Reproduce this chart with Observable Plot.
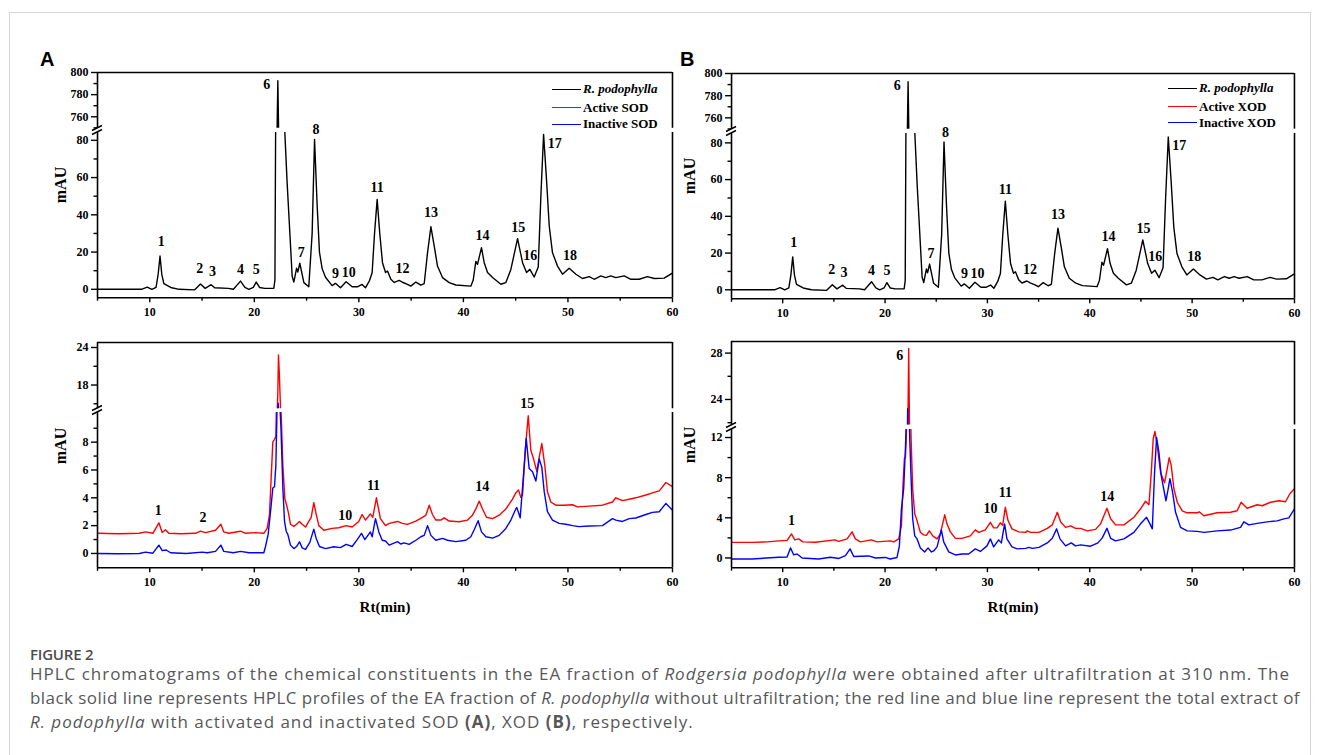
<!DOCTYPE html>
<html>
<head>
<meta charset="utf-8">
<script src="https://cdn.jsdelivr.net/npm/d3@7"></script>
<script src="https://cdn.jsdelivr.net/npm/@observablehq/plot@0.6"></script>
<style>
html, body { margin: 0; padding: 0; background: #fff; }
#root { position: relative; width: 1320px; height: 755px; overflow: hidden; background: #fff; }
.card { position: absolute; left: 9px; top: 12px; width: 1302px; height: 800px; border: 1px solid #d6d6d6; box-sizing: border-box; }
.serifb { font-family: "Liberation Serif", "Times New Roman", serif; font-weight: bold; color: #000; white-space: nowrap; }
.panelLetter { position: absolute; font-family: "Liberation Sans", Arial, sans-serif; font-weight: bold; font-size: 20px; line-height: 1; color: #000; }
.cap { position: absolute; left: 30px; font-family: "Open Sans", "Noto Sans", sans-serif; font-size: 17px; line-height: 20px; color: #575757; white-space: nowrap; }
.capTitle { position: absolute; left: 30px; font-family: "Open Sans", "Noto Sans", sans-serif; font-size: 15px; line-height: 16px; font-weight: 600; color: #4d4d4d; white-space: nowrap; letter-spacing: -0.2px; }
</style>
</head>
<body>
<div id="root"><div class="card"></div></div>
<script>
// ---------------- data ----------------
const timeTicks = [10, 20, 30, 40, 50, 60];
const timeMinor = [5, 15, 25, 35, 45, 55];

// black trace, R. podophylla (same profile in A and B) [Rt min, mAU]
const rPodophylla = [[5,0],[8,0],[9.2,0],[9.75,1.2],[10.2,0],[10.6,1],[10.8,8],[10.98,17.9],[11.15,8],[11.35,3],[12,1],[12.8,0],[14.3,-0.3],[14.85,2.8],[15.3,0.5],[15.87,2.5],[16.2,0.8],[17.5,0.5],[18.0,0],[18.68,4.4],[19.1,1],[19.48,0],[19.9,1],[20.18,3.9],[20.5,1],[21.0,0.5],[21.87,0.6],[21.97,5],[22.05,100],[22.18,750],[22.25,792.5],[22.32,750],[22.8,100],[22.92,84],[23.14,57],[23.4,30],[23.62,7],[23.78,3.9],[24.04,11.3],[24.16,9.3],[24.35,14],[24.74,3.6],[25.21,1.4],[25.53,30],[25.76,80.5],[26.01,45],[26.23,20],[26.49,11],[26.81,6.5],[27.44,2],[27.76,3.2],[28.24,0.8],[28.78,4.1],[29.36,1.4],[29.9,1.4],[30.31,2.6],[30.63,0.8],[31.02,4.7],[31.27,8.9],[31.5,30],[31.75,48.3],[32.0,30],[32.26,14.3],[32.55,9],[32.74,9.8],[33.06,5.4],[33.38,3.7],[33.86,4.8],[34.17,3.8],[34.65,2.7],[34.97,1.7],[35.45,3.9],[35.93,2.2],[36.25,3],[36.57,19.7],[36.89,33.6],[37.21,23.2],[37.52,12.5],[38.0,6.3],[38.64,3.6],[39.28,2.3],[40.71,1.7],[40.94,5],[41.19,15],[41.35,13.4],[41.73,22.4],[41.99,14.3],[42.31,9],[42.79,6.3],[43.58,2.7],[44.06,3.6],[44.54,10.7],[45.18,27.2],[45.66,14.3],[46.04,9],[46.36,10.7],[46.77,6.6],[47.16,12],[47.41,50],[47.67,83.2],[47.95,59],[48.21,34],[48.52,19.7],[49.0,12.5],[49.48,8.1],[50.12,11.3],[50.76,8.1],[51.39,5.8],[52.03,6.8],[52.51,5.4],[53.15,7.2],[53.62,6.3],[54.1,7.2],[54.58,6.3],[55.38,7.2],[56.02,5.4],[56.81,5.4],[57.61,6.8],[58.25,5.8],[59.2,6],[60,8.7]];

const activeSOD = [[5,1.45],[7,1.42],[9,1.45],[9.59,1.55],[10.3,1.45],[10.87,2.2],[11.19,1.5],[11.5,1.7],[11.82,1.45],[13,1.42],[14.37,1.45],[14.85,1.6],[15.33,1.5],[16.29,1.67],[16.8,2.1],[17.08,1.55],[17.56,1.45],[18.68,1.6],[19.16,1.45],[20.11,1.5],[20.91,1.45],[21.23,1.8],[21.45,2.8],[21.64,5.9],[21.77,8.0],[21.93,8.2],[22.06,8.4],[22.15,12],[22.25,17],[22.31,22.8],[22.41,19],[22.5,14.5],[22.57,10],[22.73,6.35],[22.92,3.95],[23.08,3.5],[23.24,3.0],[23.46,2.1],[23.78,1.95],[24.04,2.1],[24.32,2.3],[24.58,2.1],[24.9,1.9],[25.21,2.3],[25.44,2.6],[25.69,3.65],[25.91,2.85],[26.17,2.0],[26.65,1.67],[27.44,1.8],[28.08,1.85],[28.78,2.0],[29.36,1.9],[29.99,2.3],[30.31,2.8],[30.63,2.4],[31.1,2.84],[31.33,2.6],[31.68,4.0],[32.06,2.5],[32.55,2.0],[32.9,2.16],[33.7,2.3],[34.17,2.16],[34.65,2.09],[35.45,2.33],[36.09,2.6],[36.41,2.75],[36.73,3.47],[37.04,2.8],[37.36,2.4],[37.84,2.4],[38.16,2.56],[38.64,2.33],[39.59,2.28],[40.39,2.4],[40.87,2.75],[41.19,3.2],[41.51,3.76],[41.83,3.2],[42.21,2.6],[42.79,2.5],[43.42,2.75],[44.06,3.2],[44.7,3.9],[45.01,4.35],[45.27,4.57],[45.49,4.03],[45.66,4.19],[45.91,7.4],[46.2,9.9],[46.45,7.4],[46.71,6.8],[47.02,5.9],[47.25,6.9],[47.5,7.9],[47.79,6.3],[48.04,4.43],[48.36,3.7],[48.84,3.47],[49.64,3.47],[50.44,3.5],[50.91,3.35],[52.03,3.4],[53.3,3.47],[54.26,3.7],[54.58,4.0],[55.22,3.8],[55.86,3.9],[56.49,4.0],[57.45,4.2],[58.09,4.35],[58.73,4.5],[59.37,5.1],[60,4.8]];

const inactiveSOD = [[5,0],[7,-0.02],[9,0],[9.59,0.1],[10.3,0.02],[10.87,0.6],[11.19,0.2],[11.57,0.25],[11.98,0.05],[13.5,0],[15.01,0.1],[15.5,0.05],[16.29,0.15],[16.8,0.6],[17.08,0.15],[18.0,0.05],[18.68,0.15],[19.5,0.05],[20.91,0.05],[21.07,0.5],[21.32,1.35],[21.55,3.0],[21.77,4.7],[21.93,4.8],[22.06,6.35],[22.15,9.5],[22.22,13],[22.28,15.1],[22.36,13],[22.45,10.5],[22.54,9.2],[22.73,4.7],[22.89,2.3],[23.05,1.6],[23.21,1.35],[23.46,0.6],[23.78,0.35],[24.04,0.5],[24.32,0.84],[24.58,0.4],[24.9,0.3],[25.31,0.8],[25.69,1.75],[25.91,1.1],[26.23,0.5],[26.81,0.35],[27.6,0.48],[28.24,0.42],[28.78,0.65],[29.36,0.5],[29.84,1.0],[30.25,1.45],[30.57,1.0],[31.1,1.55],[31.27,1.2],[31.59,2.5],[31.91,1.55],[32.23,0.95],[32.55,0.9],[32.9,0.6],[33.7,0.85],[34.01,0.68],[34.33,0.76],[34.81,0.65],[35.45,0.95],[35.93,1.2],[36.25,1.3],[36.57,2.0],[36.89,1.3],[37.36,0.95],[38.0,1.08],[38.48,0.95],[39.28,0.85],[40.23,0.95],[40.71,1.2],[41.03,1.7],[41.41,2.35],[41.73,1.55],[42.15,1.2],[42.79,1.1],[43.42,1.3],[44.06,1.8],[44.54,2.4],[45.01,3.2],[45.11,3.3],[45.43,2.56],[45.82,6.35],[46.01,8.27],[46.29,6.1],[46.61,5.87],[46.93,5.2],[47.25,6.8],[47.5,6.2],[47.73,4.44],[48.04,3.0],[48.52,2.4],[49.16,2.16],[49.8,2.1],[50.44,2.0],[51.07,1.93],[52.03,1.97],[53.3,2.0],[54.26,2.5],[54.58,2.4],[55.22,2.3],[55.86,2.5],[56.49,2.55],[57.45,2.8],[58.09,2.95],[58.73,3.0],[59.37,3.6],[60,3.1]];

const activeXOD = [[5,1.55],[7,1.55],[8.48,1.6],[9.62,1.7],[10.43,1.75],[10.86,2.4],[11.18,1.8],[11.57,1.9],[11.96,1.6],[13.2,1.56],[15.09,1.8],[15.48,1.65],[16.29,1.9],[16.78,2.6],[17.1,1.9],[17.59,1.6],[18.67,1.8],[19.22,1.6],[20.52,1.7],[20.85,1.6],[21.33,1.9],[21.6,3.2],[21.76,7.5],[21.89,9.9],[21.99,10.0],[22.08,12.1],[22.21,20],[22.31,28.4],[22.41,20],[22.54,12.0],[22.7,6.9],[22.9,4.4],[23.13,3.7],[23.45,2.56],[23.78,2.3],[24.04,2.25],[24.33,2.7],[24.66,2.2],[25.08,1.9],[25.4,2.4],[25.83,4.3],[26.05,3.4],[26.38,2.6],[26.87,1.95],[27.52,1.95],[28.33,2.2],[28.82,2.8],[29.15,2.55],[29.8,2.8],[30.29,3.55],[30.61,3.0],[30.94,3.0],[31.26,3.5],[31.49,3.25],[31.75,5.05],[32.01,3.75],[32.4,2.9],[33.05,2.6],[33.73,2.55],[33.9,2.7],[34.22,2.55],[35.04,2.55],[35.85,2.95],[36.34,3.3],[36.83,4.55],[37.15,3.6],[37.64,3.05],[38.13,3.2],[38.61,2.95],[39.1,2.95],[39.75,2.7],[40.57,2.85],[41.06,3.4],[41.38,4.2],[41.68,4.95],[42.04,3.9],[42.52,3.3],[43.34,3.3],[44.31,4.05],[44.96,4.9],[45.45,5.65],[45.78,5.3],[46.01,8.5],[46.2,11.9],[46.37,12.6],[46.59,11.2],[46.92,8.5],[47.31,7.5],[47.57,8.9],[47.76,10.0],[47.96,9.2],[48.22,6.9],[48.55,5.55],[49.03,4.7],[49.52,4.5],[50.5,4.5],[50.69,4.6],[51.15,4.2],[52.45,4.5],[53.75,4.55],[54.4,4.7],[54.79,5.55],[55.38,4.95],[56.36,5.3],[56.84,5.2],[57.66,5.55],[58.47,5.7],[59.12,5.6],[59.55,6.4],[60,6.9]];

const inactiveXOD = [[5,-0.1],[7,-0.1],[9.62,0.07],[10.43,0.1],[10.76,1.0],[11.08,0.3],[11.41,0.4],[11.9,0.0],[13.5,-0.1],[14.66,0.07],[15.5,-0.05],[16.13,0.23],[16.58,0.9],[16.94,0.15],[18.41,0.2],[19.06,0.0],[20.03,0.05],[20.5,-0.1],[21.17,0.05],[21.4,1.2],[21.6,4.9],[21.82,6.9],[22.0,11.2],[22.05,12.9],[22.13,17],[22.21,23.2],[22.3,17],[22.41,11.9],[22.57,7.2],[22.7,3.9],[22.9,2.2],[23.13,1.9],[23.45,1.0],[23.87,0.6],[24.2,1.0],[24.53,0.6],[24.75,0.7],[25.08,1.1],[25.5,2.8],[25.73,1.6],[26.22,0.6],[26.87,0.3],[27.52,0.4],[28.17,0.4],[28.82,0.9],[29.31,0.65],[29.96,1.2],[30.29,1.9],[30.61,1.1],[31.1,1.8],[31.36,1.5],[31.68,3.4],[31.91,1.9],[32.4,1.1],[32.92,0.9],[33.73,0.95],[34.06,1.06],[34.39,0.95],[35.04,1.06],[35.85,1.5],[36.34,1.96],[36.76,2.9],[37.09,1.9],[37.64,1.2],[38.19,1.5],[38.61,1.2],[39.1,1.3],[40.08,1.17],[40.8,1.5],[41.22,2.0],[41.68,2.95],[42.04,1.96],[42.52,1.7],[43.34,1.9],[44.31,2.55],[44.96,3.4],[45.55,4.05],[45.88,3.4],[46.11,2.9],[46.33,8.5],[46.53,12.0],[46.76,10.5],[46.98,8.2],[47.44,5.7],[47.63,6.7],[47.83,7.9],[48.09,6.55],[48.38,4.55],[48.87,3.05],[49.52,2.7],[50.5,2.65],[51.15,2.55],[52.45,2.7],[53.75,2.78],[54.73,3.05],[55.05,3.6],[55.54,3.3],[56.36,3.45],[57.33,3.6],[58.31,3.7],[58.96,3.9],[59.45,4.0],[60,4.9]];

// peak labels [Rt, mAU, text]
const peaksTop = [[11.09,25.9,"1"],[14.79,11.1,"2"],[15.99,9.5,"3"],[18.68,10.4,"4"],[20.18,10.7,"5"],[21.2,789.5,"6"],[24.48,20,"7"],[25.9,85.9,"8"],[27.76,8.6,"9"],[29.04,8.9,"10"],[31.75,54.6,"11"],[34.17,11.3,"12"],[36.89,41.1,"13"],[41.83,29,"14"],[45.24,33.1,"15"],[46.39,18.3,"16"],[48.74,78.4,"17"],[50.2,18.3,"18"]];
const peaksSOD = [[10.8,3.1,"1"],[15.1,2.57,"2"],[28.7,2.75,"10"],[31.4,4.9,"11"],[41.8,4.84,"14"],[46.1,10.8,"15"]];
const peaksXOD = [[10.86,3.72,"1"],[21.43,27.8,"6"],[30.29,4.95,"10"],[31.75,6.5,"11"],[41.71,6.1,"14"]];

// y ticks
const topUpperMajor = [760, 780, 800], topUpperMinor = [750, 770, 790];
const topLowerMajor = [0, 20, 40, 60, 80], topLowerMinor = [10, 30, 50, 70];
const sodUpperMajor = [18, 24], sodUpperMinor = [15, 21];
const sodLowerMajor = [0, 2, 4, 6, 8], sodLowerMinor = [1, 3, 5, 7, 9];
const xodUpperMajor = [24, 28], xodUpperMinor = [22, 26];
const xodLowerMajor = [0, 4, 8, 12], xodLowerMinor = [2, 6, 10];

const legendSOD = ["R. podophylla", "Active SOD", "Inactive SOD"];
const legendXOD = ["R. podophylla", "Active XOD", "Inactive XOD"];
const legendColors = ["#000000", "#ff0000", "#0000ff"];

// ---------------- drawing ----------------
const root = document.getElementById("root");
function place(el, left, top) {
  el.style.position = "absolute";
  el.style.left = left + "px";
  el.style.top = top + "px";
  root.appendChild(el);
  return el;
}

function segment({x0, x1, y0, y1, domain, majors, minors, series, labels, edge, xAxis}) {
  const mL = 50, mR = 14, mT = 14, mB = xAxis ? 36 : 2;
  const marks = [];
  for (const s of series) {
    marks.push(Plot.line(s.data, {x: d => d[0], y: d => d[1], stroke: s.color, strokeWidth: 1.4, clip: true}));
  }
  marks.push(Plot.ruleX([5, 60], {strokeWidth: 1.6}));
  if (edge === "top") marks.push(Plot.ruleY([domain[1]], {strokeWidth: 1.6}));
  if (edge === "bottom") marks.push(Plot.ruleY([domain[0]], {strokeWidth: 1.6}));
  marks.push(Plot.axisY({ticks: majors, tickSize: 6, tickPadding: 3, strokeWidth: 1.4, label: null}));
  marks.push(Plot.axisY({ticks: minors, tickSize: 3.5, tickFormat: () => "", strokeWidth: 1.4, label: null}));
  if (xAxis) {
    marks.push(Plot.axisX({ticks: timeTicks, tickSize: 5, tickPadding: 5, strokeWidth: 1.4, label: null}));
    marks.push(Plot.axisX({ticks: timeMinor, tickSize: 3.5, tickFormat: () => "", strokeWidth: 1.4, label: null}));
  }
  marks.push(Plot.text(labels, {x: d => d[0], y: d => d[1], text: d => d[2], fontSize: 14, fontWeight: "bold"}));
  const svg = Plot.plot({
    width: mL + (x1 - x0) + mR,
    height: mT + (y1 - y0) + mB,
    marginLeft: mL, marginRight: mR, marginTop: mT, marginBottom: mB,
    x: {domain: [5, 60], axis: null},
    y: {domain, axis: null},
    style: {background: "transparent", overflow: "visible", fontFamily: '"Liberation Serif", "Times New Roman", serif', fontSize: "12px", fontWeight: "bold", color: "#000"},
    marks
  });
  place(svg, x0 - mL, y0 - mT);
}

function breakMark(x, yUp, yLow) {
  const ns = "http://www.w3.org/2000/svg";
  const svg = document.createElementNS(ns, "svg");
  svg.setAttribute("width", 20); svg.setAttribute("height", 30);
  svg.style.overflow = "visible";
  const top = yUp - 10;
  for (const yy of [yUp, yLow]) {
    const l = document.createElementNS(ns, "line");
    l.setAttribute("x1", 10 - 5); l.setAttribute("y1", yy - top + 2.5);
    l.setAttribute("x2", 10 + 5); l.setAttribute("y2", yy - top - 2.5);
    l.setAttribute("stroke", "#000"); l.setAttribute("stroke-width", 1.4);
    svg.appendChild(l);
  }
  place(svg, x - 10, top);
}

function panel(cfg) {
  const {x0, x1, upper, lower, series, labels, legend, legendPos} = cfg;
  segment({x0, x1, y0: upper.y0, y1: upper.y1, domain: upper.domain, majors: upper.majors, minors: upper.minors, series, labels: labels.filter(d => d[1] >= upper.domain[0]), edge: "top", xAxis: false});
  segment({x0, x1, y0: lower.y0, y1: lower.y1, domain: lower.domain, majors: lower.majors, minors: lower.minors, series, labels: labels.filter(d => d[1] < upper.domain[0]), edge: "bottom", xAxis: true});
  breakMark(x0, upper.y1, lower.y0);
  if (legend) {
    legend.forEach((name, i) => {
      const row = document.createElement("div");
      row.className = "serifb";
      row.style.fontSize = "13px";
      row.style.lineHeight = "16px";
      row.style.display = "flex";
      row.style.alignItems = "center";
      const sw = document.createElement("span");
      sw.style.display = "inline-block";
      sw.style.width = "29px";
      sw.style.height = "0";
      sw.style.borderTop = "1.6px solid " + legendColors[i];
      sw.style.marginRight = "2px";
      const tx = document.createElement("span");
      tx.textContent = name;
      if (i === 0) tx.style.fontStyle = "italic";
      row.appendChild(sw); row.appendChild(tx);
      place(row, legendPos.x, legendPos.ys[i] - 8);
    });
  }
}

function label(text, cx, cy, size, rotate) {
  const d = document.createElement("div");
  d.className = "serifb";
  d.textContent = text;
  d.style.fontSize = size + "px";
  d.style.lineHeight = "1";
  d.style.transform = "translate(-50%, -50%)" + (rotate ? " rotate(-90deg)" : "");
  place(d, cx, cy);
}

// Panel A (SOD)
panel({
  x0: 97, x1: 672,
  upper: {y0: 71.7, y1: 127.5, domain: [749.6, 800], majors: topUpperMajor, minors: topUpperMinor},
  lower: {y0: 131.5, y1: 296.7, domain: [-4.5, 84.2], majors: topLowerMajor, minors: topLowerMinor},
  series: [{data: rPodophylla, color: "#000"}],
  labels: peaksTop, legend: legendSOD, legendPos: {x: 552, ys: [89, 107.5, 124.3]}
});
panel({
  x0: 97, x1: 672,
  upper: {y0: 341.7, y1: 408, domain: [14.2, 24.8], majors: sodUpperMajor, minors: sodUpperMinor},
  lower: {y0: 412, y1: 567.3, domain: [-1.03, 10.13], majors: sodLowerMajor, minors: sodLowerMinor},
  series: [{data: activeSOD, color: "#ff0000"}, {data: inactiveSOD, color: "#0000ff"}],
  labels: peaksSOD
});
// Panel B (XOD)
panel({
  x0: 731, x1: 1294,
  upper: {y0: 73.3, y1: 129, domain: [749.8, 800], majors: topUpperMajor, minors: topUpperMinor},
  lower: {y0: 133, y1: 298.3, domain: [-4.9, 85.1], majors: topLowerMajor, minors: topLowerMinor},
  series: [{data: rPodophylla, color: "#000"}],
  labels: peaksTop, legend: legendXOD, legendPos: {x: 1168, ys: [88, 106.5, 122.5]}
});
panel({
  x0: 731, x1: 1294,
  upper: {y0: 341, y1: 424.5, domain: [21.8, 29.0], majors: xodUpperMajor, minors: xodUpperMinor},
  lower: {y0: 428.5, y1: 566.7, domain: [-0.97, 12.8], majors: xodLowerMajor, minors: xodLowerMinor},
  series: [{data: activeXOD, color: "#ff0000"}, {data: inactiveXOD, color: "#0000ff"}],
  labels: peaksXOD
});

label("mAU", 61, 185, 16, true);
label("mAU", 61, 446, 16, true);
label("mAU", 690, 176, 16, true);
label("mAU", 690, 445, 16, true);
label("Rt(min)", 385, 606.5, 15, false);
label("Rt(min)", 1013, 606.5, 15, false);

const pa = document.createElement("div"); pa.className = "panelLetter"; pa.textContent = "A"; place(pa, 40, 49);
const pb = document.createElement("div"); pb.className = "panelLetter"; pb.textContent = "B"; place(pb, 680, 49);

// caption
const capTitle = document.createElement("div");
capTitle.className = "capTitle";
capTitle.textContent = "FIGURE 2";
place(capTitle, 30, 646);
const capLines = [
  'HPLC chromatograms of the chemical constituents in the EA fraction of <i>Rodgersia podophylla</i> were obtained after ultrafiltration at 310 nm. The',
  'black solid line represents HPLC profiles of the EA fraction of <i>R. podophylla</i> without ultrafiltration; the red line and blue line represent the total extract of',
  '<i>R. podophylla</i> with activated and inactivated SOD <b>(A)</b>, XOD <b>(B)</b>, respectively.'
];
const capTargets = [1260, 1270, null];
const capEls = capLines.map((html, i) => {
  const d = document.createElement("div");
  d.className = "cap";
  const s = document.createElement("span");
  s.innerHTML = html;
  d.appendChild(s);
  place(d, 30, 664 + 24 * i);
  return s;
});
let ls = 0;
capEls.forEach((s, i) => {
  const t = capTargets[i];
  if (t) {
    const w = s.getBoundingClientRect().width;
    const n = s.textContent.length;
    const l = (t - w) / n;
    s.parentNode.style.letterSpacing = l + "px";
    if (i === 0) ls = l;
  } else {
    s.parentNode.style.letterSpacing = ls + "px";
  }
});
</script>
</body>
</html>
